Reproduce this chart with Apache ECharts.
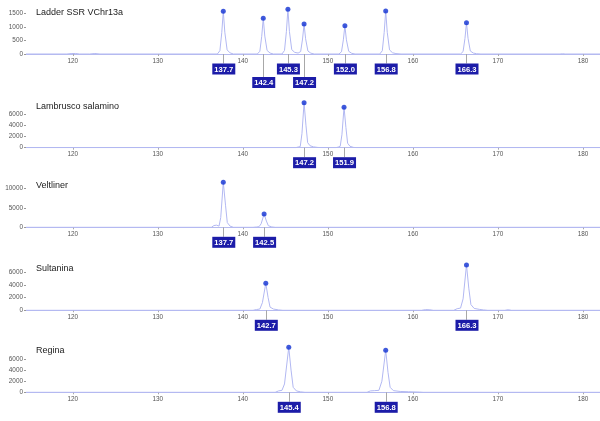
<!DOCTYPE html>
<html>
<head>
<meta charset="utf-8">
<script src="https://cdn.jsdelivr.net/npm/echarts@6.0.0/dist/echarts.min.js"></script>
<style>
  html, body { margin: 0; padding: 0; background: #fff; }
  #chart { width: 600px; height: 421px; }
</style>
</head>
<body>
<div id="chart"></div>
<script>
/* sample names, one panel each */
const sampleNames = ['Ladder SSR VChr13a', 'Lambrusco salamino', 'Veltliner', 'Sultanina', 'Regina'];

/* x axis (fragment size) */
const xMin = 114.5;
const xMax = 182;
const xTickLabels = [120, 130, 140, 150, 160, 170, 180];

/* y axis per panel */
const yMax = [1800, 8724, 12564, 7737, 8829];
const yTickLabels = [
  [0, 500, 1000, 1500],
  [0, 2000, 4000, 6000],
  [0, 5000, 10000],
  [0, 2000, 4000, 6000],
  [0, 2000, 4000, 6000]
];

/* called peaks: size, height, label row (0 = near axis, 1 = dropped) */
const peakSizes = [
  [137.7, 142.4, 145.3, 147.2, 152.0, 156.8, 166.3],
  [147.2, 151.9],
  [137.7, 142.5],
  [142.7, 166.3],
  [145.4, 156.8]
];
const peakHeights = [
  [1569, 1311, 1642, 1102, 1040, 1580, 1150],
  [8012, 7193],
  [11538, 3410],
  [4263, 7153],
  [8103, 7568]
];
const labelRows = [
  [0, 1, 0, 1, 0, 0, 0],
  [0, 0],
  [0, 0],
  [0, 0],
  [0, 0]
];

/* electropherogram traces [size, rfu] */
const traceLadder = [
  [114.5, 0], [119.3, 0], [119.8, 15], [120.3, 20], [120.8, 0], [122.0, 0], [122.6, 18], [123.2, 0],
  [137.0, 0], [137.3, 120], [137.52, 780], [137.7, 1569], [137.88, 800], [138.15, 150], [138.5, 40], [138.9, 0],
  [141.7, 0], [142.0, 100], [142.22, 650], [142.4, 1311], [142.58, 660], [142.85, 130], [143.2, 35], [143.6, 0],
  [144.6, 0], [144.9, 130], [145.12, 820], [145.3, 1642], [145.48, 820], [145.75, 160], [146.1, 60],
  [146.5, 35], [146.8, 90], [147.02, 550], [147.2, 1102], [147.38, 560], [147.65, 110], [148.0, 30], [148.4, 0],
  [151.3, 0], [151.6, 80], [151.82, 520], [152.0, 1040], [152.18, 520], [152.45, 100], [152.8, 25], [153.2, 0],
  [156.1, 0], [156.4, 120], [156.62, 790], [156.8, 1580], [156.98, 800], [157.25, 150], [157.6, 45], [158.0, 15], [158.6, 0],
  [165.6, 0], [165.9, 90], [166.12, 570], [166.3, 1150], [166.48, 580], [166.75, 110], [167.1, 35], [167.5, 10], [168.0, 0],
  [177.3, 0], [177.6, 10], [177.9, 0], [182, 0]
];
const traceLambrusco = [
  [114.5, 0], [117.3, 0], [117.5, 60], [117.7, 0],
  [146.2, 0], [146.5, 120], [146.75, 200], [146.95, 2500], [147.2, 8012], [147.42, 4000], [147.62, 900], [147.9, 350], [148.3, 150], [148.8, 50], [149.3, 0],
  [150.9, 0], [151.2, 100], [151.45, 250], [151.65, 2300], [151.9, 7193], [152.12, 3600], [152.32, 800], [152.6, 250], [153.0, 60], [153.4, 0],
  [182, 0]
];
const traceVeltliner = [
  [114.5, 0], [136.3, 0], [136.6, 450], [136.9, 550], [137.2, 300], [137.4, 2500], [137.7, 11538], [137.97, 5500], [138.17, 1200], [138.5, 300], [138.9, 0],
  [141.2, 0], [141.6, 80], [141.9, 150], [142.15, 900], [142.5, 3410], [142.77, 1600], [143.0, 400], [143.4, 100], [143.8, 0],
  [182, 0]
];
const traceSultanina = [
  [114.5, 0], [141.2, 0], [141.6, 120], [142.0, 200], [142.3, 1200], [142.7, 4263], [142.97, 2000], [143.2, 500], [143.6, 200], [144.2, 60], [144.7, 0],
  [161.0, 0], [161.5, 110], [162.0, 80], [162.4, 0],
  [164.8, 0], [165.2, 250], [165.6, 350], [165.9, 1800], [166.3, 7153], [166.57, 3500], [166.82, 900], [167.2, 300], [167.8, 150], [168.3, 60], [168.8, 0],
  [170.8, 0], [171.2, 90], [171.6, 0], [182, 0]
];
const traceRegina = [
  [114.5, 0], [143.8, 0], [144.2, 250], [144.6, 350], [144.9, 1500], [145.4, 8103], [145.67, 4000], [145.92, 900], [146.3, 250], [146.8, 80], [147.3, 0],
  [154.6, 0], [155.0, 250], [155.5, 300], [156.0, 350], [156.35, 2000], [156.8, 7568], [157.07, 3600], [157.32, 900], [157.7, 300], [158.5, 150], [159.5, 100], [160.8, 40], [161.2, 0],
  [182, 0]
];
const traces = [traceLadder, traceLambrusco, traceVeltliner, traceSultanina, traceRegina];

/* layout: y pixel of the zero line of each panel */
const zeroLines = [54, 147.7, 227.3, 310.3, 392.3];
const plotHeight = 49;

const traceColor = '#b2b8f2';
const dotColor = '#0f2fd2';
const boxColor = '#1c1ca8';
const tickFont = 'Liberation Sans';

const myChart = echarts.init(document.getElementById('chart'), null, { renderer: 'canvas' });

/* label box under the axis with a leader line */
function renderPeakLabel(params, api) {
  const p = api.coord([api.value(0), 0]);
  const drop = api.value(2) ? 23 : 9.5;
  return {
    type: 'group',
    children: [
      {
        type: 'line',
        shape: { x1: Math.round(p[0]) + 0.5, y1: p[1], x2: Math.round(p[0]) + 0.5, y2: p[1] + drop },
        style: { stroke: '#a8a8a8', lineWidth: 1 }
      },
      {
        type: 'text',
        x: p[0] + 0.5,
        y: p[1] + drop,
        style: {
          text: api.value(0).toFixed(1),
          fill: '#ffffff',
          font: 'bold 7.6px "Liberation Sans"',
          align: 'center',
          verticalAlign: 'top',
          backgroundColor: boxColor,
          padding: [2, 2, 1, 2]
        }
      }
    ]
  };
}

const grid = [];
const xAxis = [];
const yAxis = [];
const title = [];
const series = [];

sampleNames.forEach((name, i) => {
  grid.push({
    left: 26,
    right: 0,
    top: zeroLines[i] - plotHeight,
    height: plotHeight
  });
  xAxis.push({
    gridIndex: i,
    type: 'value',
    min: xMin,
    max: xMax,
    splitLine: { show: false },
    axisLine: { lineStyle: { color: '#b6bbef', width: 1 } },
    axisTick: { show: true, length: 2, lineStyle: { color: '#aaaaaa' }, customValues: xTickLabels },
    axisLabel: {
      customValues: xTickLabels,
      formatter: (v) => String(v),
      color: '#555555',
      fontFamily: tickFont,
      fontSize: 6.4,
      margin: 4
    }
  });
  yAxis.push({
    gridIndex: i,
    type: 'value',
    min: 0,
    max: yMax[i],
    splitLine: { show: false },
    axisLine: { show: false },
    axisTick: { show: true, length: 2, lineStyle: { color: '#999999' }, customValues: yTickLabels[i] },
    axisLabel: {
      customValues: yTickLabels[i],
      formatter: (v) => String(v),
      color: '#555555',
      fontFamily: tickFont,
      fontSize: 6.4,
      margin: 3
    }
  });
  title.push({
    text: name,
    left: 36,
    top: zeroLines[i] - 46,
    padding: 0,
    textStyle: { fontFamily: tickFont, fontSize: 9, fontWeight: 'normal', color: '#222222' }
  });

  series.push({
    name: name,
    type: 'line',
    xAxisIndex: i,
    yAxisIndex: i,
    data: traces[i],
    showSymbol: false,
    silent: true,
    lineStyle: { color: traceColor, width: 1 },
    z: 2
  });
  series.push({
    type: 'scatter',
    xAxisIndex: i,
    yAxisIndex: i,
    data: peakSizes[i].map((s, k) => [s, peakHeights[i][k]]),
    symbolSize: 5,
    itemStyle: { color: dotColor },
    z: 4
  });
  series.push({
    type: 'custom',
    xAxisIndex: i,
    yAxisIndex: i,
    clip: false,
    renderItem: renderPeakLabel,
    encode: { x: 0, y: 1 },
    data: peakSizes[i].map((s, k) => [s, 0, labelRows[i][k]]),
    z: 5
  });
});

myChart.setOption({
  animation: false,
  title: title,
  grid: grid,
  xAxis: xAxis,
  yAxis: yAxis,
  series: series
});
</script>
</body>
</html>
